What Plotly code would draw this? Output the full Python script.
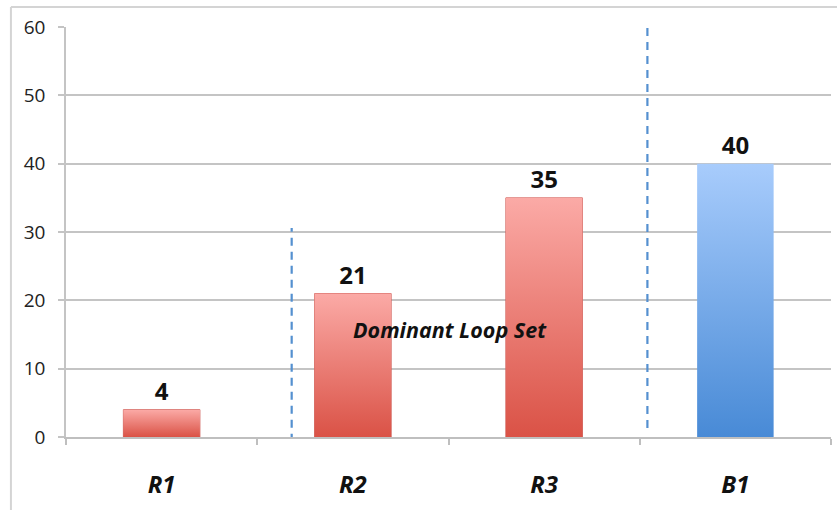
import plotly.graph_objects as go

# Loop strengths by category
categories = ["R1", "R2", "R3", "B1"]
values = [4, 21, 35, 40]
loop_kind = ["reinforcing", "reinforcing", "reinforcing", "balancing"]

y_ticks = [0, 10, 20, 30, 40, 50, 60]

# Separators between loop groups (x in category-index units)
separator_x = [0.68, 2.54]
separator_y = [(-0.7, 30.6), (1.3, 63.2)]

gradients = {
    "reinforcing": [[0, "rgb(218,82,70)"], [1, "rgb(251,170,166)"]],
    "balancing": [[0, "rgb(72,138,214)"], [1, "rgb(168,204,252)"]],
}
outlines = {"reinforcing": "rgb(206,96,90)", "balancing": "rgba(0,0,0,0)"}

BAR_HALF = 0.2
FONT = "'Open Sans', sans-serif"

fig = go.Figure()

# Gradient fills for each bar
for i, (v, kind) in enumerate(zip(values, loop_kind)):
    fig.add_trace(go.Scatter(
        x=[i - BAR_HALF, i + BAR_HALF, i + BAR_HALF, i - BAR_HALF, i - BAR_HALF],
        y=[0, 0, v, v, 0],
        mode="lines",
        line=dict(width=0),
        fill="toself",
        fillgradient=dict(type="vertical", colorscale=gradients[kind]),
        hoverinfo="skip",
        showlegend=False,
    ))

# Bars carry the outline and value labels
fig.add_trace(go.Bar(
    x=list(range(len(categories))),
    y=values,
    width=2 * BAR_HALF,
    marker=dict(color="rgba(0,0,0,0)",
                line=dict(color=[outlines[k] for k in loop_kind], width=1)),
    text=[str(v) for v in values],
    textposition="outside",
    textfont=dict(family=FONT, size=24, color="#111111", weight="bold"),
    cliponaxis=False,
    hovertext=categories,
    showlegend=False,
))

shapes = []
for sx, (y0, y1) in zip(separator_x, separator_y):
    shapes.append(dict(type="line", xref="x", yref="y", x0=sx, x1=sx, y0=y0, y1=y1,
                       line=dict(color="rgb(84,144,208)", width=2.2, dash="8px,6px"),
                       layer="above"))
# Outer frame edges (top and left)
shapes.append(dict(type="line", xref="paper", yref="paper", x0=-0.072, x1=1.02,
                   y0=1.049, y1=1.049, line=dict(color="#d4d4d4", width=2)))
shapes.append(dict(type="line", xref="paper", yref="paper", x0=-0.072, x1=-0.072,
                   y0=1.049, y1=-0.2, line=dict(color="#d4d4d4", width=2)))

fig.update_layout(
    width=837, height=510,
    margin=dict(l=66, r=6, t=27, b=73),
    paper_bgcolor="white", plot_bgcolor="white",
    bargap=0.6,
    shapes=shapes,
    annotations=[dict(x=1.51, y=15.7, xref="x", yref="y", text="<b><i>Dominant Loop Set</i></b>",
                      showarrow=False, font=dict(family=FONT, size=21.5, color="#111111"))],
    xaxis=dict(
        range=[-0.5, 3.5],
        tickmode="array", tickvals=list(range(len(categories))),
        ticktext=[f"<b><i>{c}</i></b>" for c in categories],
        ticks="", ticklabelstandoff=25,
        tickfont=dict(family=FONT, size=24, color="#111111"),
        showgrid=False, zeroline=False,
        showline=True, linecolor="#bfbfbf", linewidth=1.5,
        minor=dict(tickmode="linear", tick0=-0.5, dtick=1, ticks="outside",
                   ticklen=6, tickcolor="#bfbfbf", tickwidth=1.5, showgrid=False),
    ),
    yaxis=dict(
        range=[0, 60],
        tickvals=y_ticks,
        ticks="outside", ticklen=6, tickcolor="#c4c4c4", tickwidth=1.5,
        ticklabelstandoff=9,
        tickfont=dict(family=FONT, size=19, color="#222222"),
        showgrid=True, gridcolor="#c4c4c4", gridwidth=1.5,
        zeroline=False,
        showline=True, linecolor="#c4c4c4", linewidth=1.5,
    ),
)

fig.write_html("out.html")
